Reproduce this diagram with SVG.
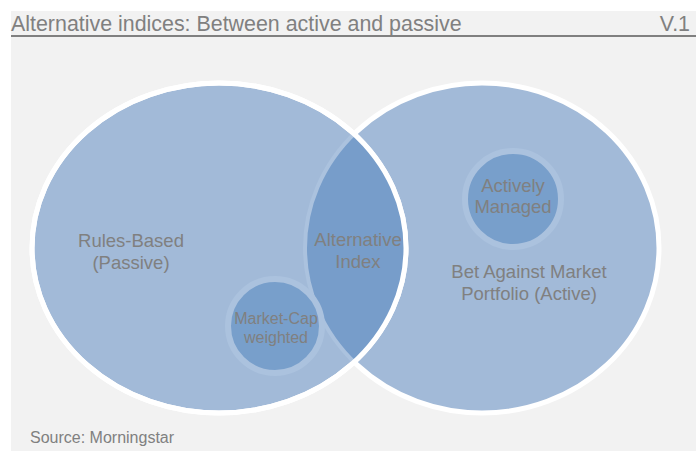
<svg xmlns="http://www.w3.org/2000/svg" width="696" height="451" viewBox="0 0 696 451">
<style>
.t{font-family:"Liberation Sans",Arial,sans-serif;fill:#808080;text-anchor:middle}
.big{font-size:18.5px}
.sm{font-size:16px}
.main{fill:#A2BAD8;stroke:#FFFFFF;stroke-width:5}
.inner{fill:#789FCB;stroke:#ABC2DE;stroke-width:6}
</style>
<defs>
<clipPath id="clipL"><ellipse cx="219" cy="248" rx="187" ry="165"/></clipPath>
</defs>
<rect x="0" y="0" width="696" height="451" fill="#FFFFFF"/>
<rect x="11" y="11" width="685" height="440" fill="#F2F2F2"/>
<text x="11" y="31" font-family="'Liberation Sans',Arial,sans-serif" font-size="21.4" fill="#808080">Alternative indices: Between active and passive</text>
<text x="690" y="31" font-family="'Liberation Sans',Arial,sans-serif" font-size="21.4" fill="#808080" text-anchor="end">V.1</text>
<line x1="11" y1="36" x2="696" y2="36" stroke="#808080" stroke-width="2"/>
<g id="right-circle">
<ellipse class="main" cx="482" cy="248" rx="177" ry="165"/>
</g>
<g id="left-circle">
<ellipse class="main" cx="219" cy="248" rx="187" ry="165"/>
</g>
<g id="lens">
<ellipse cx="482" cy="248" rx="177" ry="165" fill="#779DCA" stroke="#ABC2DE" stroke-width="4" clip-path="url(#clipL)"/>
<ellipse cx="219" cy="248" rx="187" ry="165" fill="none" stroke="#FFFFFF" stroke-width="5"/>
</g>
<g id="market-cap">
<circle class="inner" cx="275" cy="326" r="47"/>
</g>
<g id="actively-managed">
<circle class="inner" cx="513" cy="199" r="48"/>
</g>
<g id="labels">
<text class="t big" x="131" y="247">Rules-Based</text>
<text class="t big" x="131" y="269">(Passive)</text>
<text class="t big" x="358" y="246">Alternative</text>
<text class="t big" x="358" y="268">Index</text>
<text class="t big" x="529" y="278">Bet Against Market</text>
<text class="t big" x="529" y="300">Portfolio (Active)</text>
<text class="t big" x="513" y="192">Actively</text>
<text class="t big" x="513" y="213">Managed</text>
<text class="t sm" x="276" y="324">Market-Cap</text>
<text class="t sm" x="276" y="343">weighted</text>
</g>
<g id="connectors"/>
<text x="30" y="443" font-family="'Liberation Sans',Arial,sans-serif" font-size="16" fill="#808080">Source: Morningstar</text>
</svg>
